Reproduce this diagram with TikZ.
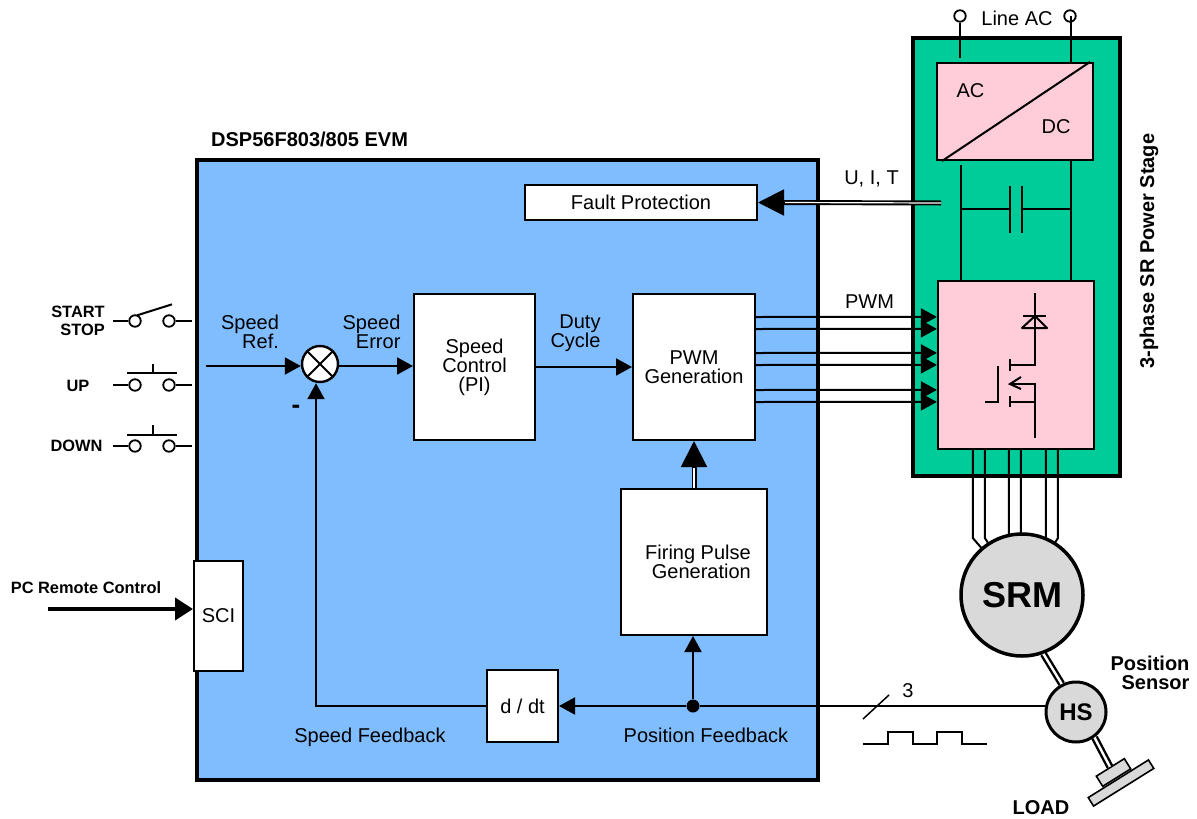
\documentclass[tikz,border=0pt]{standalone}
\usepackage{fontspec}
\setmainfont{Liberation Sans}
\usetikzlibrary{calc,arrows.meta}

\definecolor{evmblue}{HTML}{80BDFF}
\definecolor{stagegreen}{HTML}{00CC99}
\definecolor{partpink}{HTML}{FFCCD9}
\definecolor{motorgray}{HTML}{D9D9D9}

\tikzset{
    every node/.style={font=\fontsize{20}{19}\selectfont, inner sep=0pt},
    wire/.style={line width=2pt},
    flow/.style={wire, -{Triangle[length=16pt,width=17pt]}},
    widetip/.style={-{Triangle[length=26pt,width=26pt]}, wire},
    twoline/.style={line width=1.9pt, double, double distance=1.2pt},
    shaft/.style={line width=2.4pt, double, double distance=2.4pt},
    block/.style={draw=black, fill=white, line width=2pt, align=center},
    part/.style={draw=black, fill=partpink, line width=2.2pt},
    term/.style={circle, draw=black, fill=white, line width=1.8pt, minimum size=11.5pt},
    motor/.style={circle, draw=black, fill=motorgray, line width=3.5pt},
    plate/.style={draw=black, fill=motorgray, line width=1.6pt},
    strong/.style={font=\fontsize{20}{19}\selectfont\bfseries, align=right},
    strongsmall/.style={font=\fontsize{16.4}{18}\selectfont\bfseries, align=right}
}

\begin{document}
\begin{tikzpicture}[x=1pt, y=-1pt]
    \useasboundingbox (0,0) rectangle (1197,819);

    % frames
    \node[draw=black, fill=evmblue, line width=4pt, minimum width=621pt, minimum height=620pt] (evm) at (507.5,470) {};
    \node[draw=black, fill=stagegreen, line width=4pt, minimum width=207pt, minimum height=438pt] (stage) at (1016.5,257) {};

    \node[strong, anchor=west] (evmtitle) at (211,139) {DSP56F803/805 EVM};
    \node[strong, rotate=90] (stagetitle) at (1149,251) {3-phase SR Power Stage};

    % blocks of the controller
    \node[block, minimum width=232pt, minimum height=35pt] (fault) at (641,202.5) {Fault Protection};
    \node[block, minimum width=121pt, minimum height=146pt] (speedctl) at (474.5,367) {Speed\\Control\\(PI)};
    \node[block, minimum width=122pt, minimum height=146pt] (pwmgen) at (694,367) {PWM\\Generation};
    \node[block, minimum width=146pt, minimum height=146pt, align=right] (firing) at (694,562) {\hspace*{8pt}Firing Pulse\\Generation};
    \node[block, minimum width=71pt, minimum height=72pt] (ddt) at (522.5,706) {d / dt};
    \node[block, minimum width=49pt, minimum height=110pt] (sci) at (218.5,616) {SCI};
    \node[circle, draw=black, fill=white, line width=2.4pt, minimum size=36pt] (sum) at (320,364) {};
    \draw[wire] (sum.45) -- (sum.225);
    \draw[wire] (sum.135) -- (sum.-45);

    % labels of the controller
    \node[align=right] (speedref) at (250,331.5) {Speed\\Ref.};
    \node[align=right] (speederr) at (371.5,331.5) {Speed\\Error};
    \node[align=right] (duty) at (575.5,333.5) {Duty\\Cycle};
    \node (speedfb) at (370,737) {Speed Feedback};
    \node (posfb) at (706,735) {Position Feedback};
    \node[strong, font=\fontsize{26}{26}\selectfont\bfseries] (minus) at (296,409) {-};

    % controller connections
    \coordinate (refin) at (206,366);
    \draw[flow] (refin) -- ($(sum.west) + (0,2)$);
    \draw[flow] ($(sum.east) + (0,2)$) -- ($(speedctl.west) + (0,-1)$);
    \draw[flow] (speedctl.east) -- (pwmgen.west);
    \draw[flow] (ddt.west) -| ($(sum.south) + (-4,0)$);

    \node[circle, fill=black, minimum size=13pt] (tap) at (693,706) {};
    \draw[flow] (tap) -- (tap |- firing.south);
    \draw[twoline] (firing.north) -- ($(pwmgen.south) + (0,26)$);
    \draw[widetip] ($(pwmgen.south) + (0,26)$) -- (pwmgen.south);

    % power stage
    \node[part, minimum width=156pt, minimum height=97pt] (acdc) at (1015,111.5) {};
    \node[part, minimum width=156pt, minimum height=168pt] (power) at (1016,365) {};
    \draw[wire] ($(acdc.south west) + (6,0)$) -- ($(acdc.north east) + (-4,0)$);
    \node (aclabel) at (970.5,91) {AC};
    \node (dclabel) at (1056,127) {DC};

    \node[term] (linel) at (960,16) {};
    \node[term] (liner) at (1070,16) {};
    \node (linelabel) at (1017,18) {Line AC};
    \draw[wire] (linel) -- ($(linel |- acdc.north) + (0,-4)$);
    \draw[wire] (liner) ++(1,0) -- ($(liner |- acdc.north) + (1,0)$);

    % dc link
    \coordinate (railtop) at (961,165);
    \coordinate (capl) at (961,208.5);
    \coordinate (capr) at (1071,208.5);
    \coordinate (platel) at (1010,208.5);
    \coordinate (plater) at (1022,208.5);
    \draw[wire] (railtop) -- (railtop |- power.north);
    \draw[wire] (capr |- acdc.south) -- (capr |- power.north);
    \draw[wire] (capl) -- (platel);
    \draw[wire] (plater) -- (capr);
    \draw[wire] ($(platel) + (0,-23)$) -- ($(platel) + (0,24)$);
    \draw[wire] ($(plater) + (0,-23)$) -- ($(plater) + (0,24)$);

    % diode and transistor
    \draw[wire] (1035,293) -- (1035,365) -- (1010,365);
    \draw[wire] (1023,316) -- (1046,316);
    \draw[wire, line join=round] (1035,316) -- (1022,328) -- (1047,328) -- cycle;
    \draw[wire] (1010,359) -- (1010,371);
    \draw[wire] (1010,396) -- (1010,407);
    \draw[wire] (1010,402) -- (1035,402);
    \draw[wire] (1010,384) -- (1035,384) -- (1035,438);
    \draw[wire] (1021,377) -- (1010,384) -- (1021,389);
    \draw[wire] (998,366) -- (998,402) -- (985,402);

    % fault and pwm signals
    \coordinate (uit) at (941,203);
    \draw[twoline] (uit) -- ($(fault.east) + (26,0)$);
    \draw[widetip] ($(fault.east) + (26,0)$) -- (fault.east);
    \node (uitlabel) at (871.5,179) {U, I, T};
    \node (pwmlabel) at (869.5,302) {PWM};

    \draw[flow] ($(pwmgen.north east) + (0,24)$) -- ($(power.north west) + (0,37)$);
    \draw[flow] ($(pwmgen.north east) + (0,36)$) -- ($(power.north west) + (0,49)$);
    \draw[flow] ($(pwmgen.north east) + (0,60)$) -- ($(power.north west) + (0,73)$);
    \draw[flow] ($(pwmgen.north east) + (0,72)$) -- ($(power.north west) + (0,85)$);
    \draw[flow] ($(pwmgen.north east) + (0,97)$) -- ($(power.north west) + (0,110)$);
    \draw[flow] ($(pwmgen.north east) + (0,109)$) -- ($(power.north west) + (0,122)$);

    % motor, sensor and load
    \coordinate (srmc) at (1022,595);
    \draw[wire] ($(power.south west) + (36,0)$) -- ++(0,88) -- (srmc);
    \draw[wire] ($(power.south west) + (48,0)$) -- ++(0,88) -- (srmc);
    \draw[wire] ($(power.south west) + (72,0)$) -- ++(0,88) -- (srmc);
    \draw[wire] ($(power.south west) + (84,0)$) -- ++(0,88) -- (srmc);
    \draw[wire] ($(power.south west) + (109,0)$) -- ++(0,88) -- (srmc);
    \draw[wire] ($(power.south west) + (121,0)$) -- ++(0,88) -- (srmc);
    \node[motor, minimum size=122pt, font=\fontsize{36}{36}\selectfont\bfseries] (srm) at (srmc) {SRM};
    \node[motor, minimum size=60pt, line width=3pt, font=\fontsize{24}{24}\selectfont\bfseries] (hs) at (1076,712) {HS};
    \node[plate, rotate=32, minimum width=71pt, minimum height=10pt] (loadbig) at (1121,783) {};
    \node[plate, rotate=32, minimum width=33pt, minimum height=12pt] (loadsmall) at (1113.5,772.5) {};
    \draw[shaft] (srm.-70) -- (hs.117);
    \draw[shaft] (hs.-54) -- (loadsmall.north);
    \node[strong] (sensorlabel) at (1150,672.5) {Position\\Sensor};
    \node[strong] (loadlabel) at (1041,808) {LOAD};

    % position signal
    \draw[wire] (hs.west |- tap) -- (tap);
    \draw[flow] (tap) -- (ddt.east);
    \coordinate (slashup) at (889,695);
    \coordinate (slashdown) at (863,719);
    \draw[line width=1.5pt] (slashdown) -- (slashup);
    \node (three) at (908,691) {3};
    \draw[wire] (863,744) -- (888,744) -- (888,732) -- (913,732) -- (913,744) -- (937,744) -- (937,732) -- (962,732) -- (962,744) -- (987,744);

    % switches
    \node[term] (starta) at (135,321) {};
    \node[term] (startb) at (169,321) {};
    \node[term] (upa) at (135,385) {};
    \node[term] (upb) at (169,385) {};
    \node[term] (downa) at (135,446) {};
    \node[term] (downb) at (169,446) {};

    \draw[wire] ($(starta) + (-22,0)$) -- (starta);
    \draw[wire] (startb) -- ($(startb) + (23,0)$);
    \draw[wire] (starta.north) ++(2,1) -- ++(35,-11);
    \draw[wire] ($(upa) + (-22,0)$) -- (upa);
    \draw[wire] (upb) -- ($(upb) + (23,0)$);
    \draw[wire] ($(upa) + (-8,-12)$) -- ($(upb) + (8,-12)$);
    \draw[wire] ($(upa) + (18,-12)$) -- ($(upa) + (18,-21)$);
    \draw[wire] ($(downa) + (-22,0)$) -- (downa);
    \draw[wire] (downb) -- ($(downb) + (23,0)$);
    \draw[wire] ($(downa) + (-8,-11)$) -- ($(downb) + (8,-11)$);
    \draw[wire] ($(downa) + (18,-11)$) -- ($(downa) + (18,-21)$);

    \node[strongsmall] (startlabel) at (78,321) {START\\STOP};
    \node[strongsmall] (uplabel) at (78,386) {UP};
    \node[strongsmall] (downlabel) at (76.5,446) {DOWN};

    % remote control
    \node[strongsmall] (pclabel) at (86,588) {PC Remote Control};
    \coordinate (pcin) at (48,609);
    \draw[line width=4pt, -{Triangle[length=18pt,width=22pt]}] (pcin) -- (sci.west |- pcin);
\end{tikzpicture}
\end{document}
